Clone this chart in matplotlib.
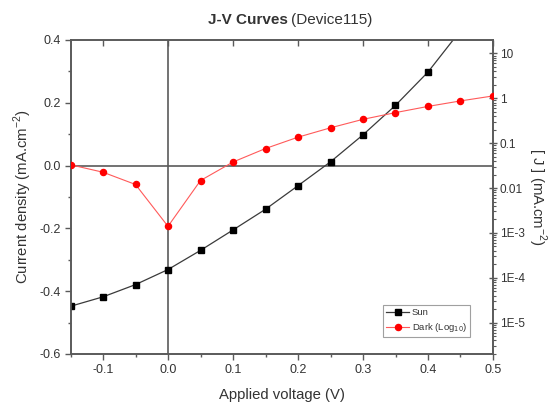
import matplotlib
matplotlib.use("Agg")
import matplotlib.pyplot as plt
import matplotlib.ticker as mticker
import numpy as np

plt.rcParams['font.family'] = ['Liberation Sans', 'DejaVu Sans']

# data
voltage = [-0.15, -0.1, -0.05, 0.0, 0.05, 0.1, 0.15, 0.2, 0.25, 0.3, 0.35, 0.4, 0.45, 0.5]
j_sun = [-0.448, -0.418, -0.379, -0.331, -0.270, -0.205, -0.139, -0.064, 0.012, 0.098, 0.192, 0.298, 0.43]
j_dark = [0.033, 0.0225, 0.012, 0.0014, 0.0147, 0.038, 0.076, 0.136, 0.22, 0.34, 0.48, 0.66, 0.875, 1.13]

right_ticks = [10, 1, 0.1, 0.01, 1e-3, 1e-4, 1e-5]
right_labels = ["10", "1", "0.1", "0.01", "1E-3", "1E-4", "1E-5"]

spine_col = "#5a5a5a"
txt_col = "#333333"

fig = plt.figure(figsize=(5.55, 4.03), dpi=100)
ax = fig.add_axes([70.5/555, 1 - 354/403, 422.5/555, 314/403])
ax2 = ax.twinx()

ax.axhline(0, color=spine_col, lw=1.2, zorder=1)
ax.axvline(0, color=spine_col, lw=1.2, zorder=1)

l1, = ax.plot(voltage[:len(j_sun)], j_sun, color="#3a3a3a", lw=0.9, marker="s",
              ms=3.8, mfc="black", mec="black", label="Sun", zorder=3)
l2, = ax2.plot(voltage, j_dark, color="#ff5a5a", lw=0.8, marker="o",
               ms=4.4, mfc="red", mec="red", label="Dark (Log$_{10}$)", zorder=3)

ax.set_xlim(-0.15, 0.5)
ax.set_ylim(-0.6, 0.4)
ax2.set_yscale("log")
ax2.set_ylim(10**-5.7, 10**1.3)

ax.xaxis.set_major_locator(mticker.MultipleLocator(0.1))
ax.xaxis.set_minor_locator(mticker.MultipleLocator(0.05))
ax.yaxis.set_major_locator(mticker.MultipleLocator(0.2))
ax.yaxis.set_minor_locator(mticker.MultipleLocator(0.1))
ax.xaxis.set_major_formatter(mticker.FormatStrFormatter("%.1f"))
ax.yaxis.set_major_formatter(mticker.FormatStrFormatter("%.1f"))

ax2.yaxis.set_major_locator(mticker.FixedLocator(right_ticks))
ax2.yaxis.set_major_formatter(mticker.FixedFormatter(right_labels))
ax2.yaxis.set_minor_locator(mticker.LogLocator(base=10, subs=np.arange(2, 10)))
ax2.yaxis.set_minor_formatter(mticker.NullFormatter())

ax.tick_params(axis="both", which="major", direction="out", length=4, width=1,
               color=spine_col, labelsize=9, labelcolor=txt_col, pad=3)
ax.tick_params(axis="both", which="minor", direction="out", length=2.5, width=1,
               color=spine_col)
ax.tick_params(axis="x", which="major", top=True)
ax2.tick_params(axis="y", which="major", direction="inout", length=6, width=1,
                color=spine_col, labelsize=8.5, labelcolor=txt_col, pad=2)
ax2.tick_params(axis="y", which="minor", direction="out", length=2.5, width=0.8,
                color=spine_col)

# top ticks point inward
for t in ax.xaxis.get_major_ticks():
    t.tick2line.set_marker(3)
    t.tick2line.set_markersize(4)

for a in (ax, ax2):
    for s in a.spines.values():
        s.set_color(spine_col)
        s.set_linewidth(1.2)

ax.set_xlabel("Applied voltage (V)", fontsize=10.7, color=txt_col, labelpad=9)
ax.set_ylabel("Current density (mA.cm$^{\\mathregular{-2}}$)", fontsize=10.7, color=txt_col, labelpad=4)
ax2.set_ylabel("[ J ] (mA.cm$^{\\mathregular{-2}}$)", fontsize=10.7, color=txt_col, rotation=270, labelpad=17)

fig.text(288/555, 1 - 20/403, "J-V Curves", fontsize=11, fontweight="bold", color=txt_col, ha="right", va="center")
fig.text(291/555, 1 - 20/403, "(Device115)", fontsize=11, color=txt_col, ha="left", va="center")

leg = ax2.legend(handles=[l1, l2], loc="upper left", bbox_to_anchor=(383/555, 1 - 305/403),
                 bbox_transform=fig.transFigure, fontsize=6.8, frameon=True, fancybox=False,
                 handlelength=2.4, handletextpad=0.3, borderpad=0.35, labelspacing=0.4,
                 borderaxespad=0)
leg.get_frame().set_edgecolor("#888888")
leg.get_frame().set_linewidth(0.8)
for t in leg.get_texts():
    t.set_color(txt_col)

fig.savefig("out.png", dpi=100)
